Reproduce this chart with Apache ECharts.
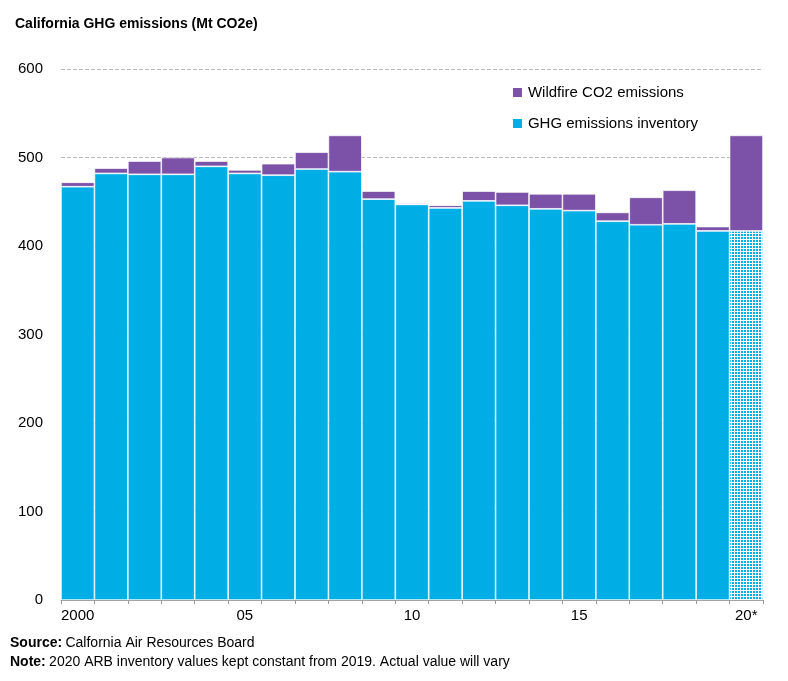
<!DOCTYPE html>
<html>
<head>
<meta charset="utf-8">
<script src="https://cdn.jsdelivr.net/npm/echarts@6/dist/echarts.min.js"></script>
<style>
  body { margin: 0; background: #fff; }
  #chart { width: 788px; height: 681px; }
</style>
</head>
<body>
<div id="chart"></div>
<script>
const years = ['2000', '01', '02', '03', '04', '05', '06', '07', '08', '09', '10',
  '11', '12', '13', '14', '15', '16', '17', '18', '19', '20*'];
const xLabels = { 0: '2000', 5: '05', 10: '10', 15: '15', 20: '20*' };
const ghg = [467, 482, 481, 481, 490, 482, 480, 487, 484, 453, 447,
  443, 451, 446, 442, 440, 428, 424, 425, 417, 417];
const wildfire = [5, 6, 15, 19, 6, 4, 13, 19, 41, 9, 1,
  3, 11, 15, 17, 19, 10, 31, 38, 5, 108];

// dotted fill for the 2020 estimate
const pat = document.createElement('canvas');
pat.width = 3; pat.height = 3;
const pc = pat.getContext('2d');
pc.fillStyle = '#ffffff';
pc.fillRect(0, 0, 3, 3);
pc.fillStyle = '#00aee6';
pc.fillRect(0, 0, 2, 2);

const chart = echarts.init(document.getElementById('chart'));
const blue = '#00aee6';
const purple = '#7b52a8';

chart.setOption({
  animation: false,
  title: {
    text: 'California GHG emissions (Mt CO2e)',
    left: 10, top: 12,
    textStyle: { fontFamily: 'Liberation Sans', fontSize: 14, fontWeight: 'bold', color: '#000' }
  },
  legend: {
    orient: 'vertical',
    right: 85, top: 80,
    itemWidth: 11, itemHeight: 11, itemGap: 16,
    icon: 'rect',
    textStyle: { fontFamily: 'Liberation Sans', fontSize: 15, color: '#000' },
    data: ['Wildfire CO2 emissions', 'GHG emissions inventory']
  },
  grid: { left: 61, right: 25, top: 69, bottom: 81 },
  xAxis: {
    type: 'category',
    data: years,
    axisLine: { lineStyle: { color: '#999' } },
    axisTick: { show: true, interval: 0, length: 4, lineStyle: { color: '#999' } },
    axisLabel: {
      interval: 0,
      formatter: (v, i) => xLabels[i] || '',
      fontFamily: 'Liberation Sans', fontSize: 15, color: '#000', margin: 8
    }
  },
  yAxis: {
    type: 'value',
    min: 0, max: 600, interval: 100,
    axisLabel: { fontFamily: 'Liberation Sans', fontSize: 15, color: '#000', margin: 18 },
    splitLine: { lineStyle: { color: '#bbb', type: 'dashed' } }
  },
  series: [
    {
      name: 'GHG emissions inventory',
      type: 'bar', stack: 'total',
      barCategoryGap: 0,
      itemStyle: { color: blue, borderColor: '#fff', borderWidth: 0.7 },
      data: ghg.map((v, i) => i === 20
        ? { value: v, itemStyle: { color: { image: pat, repeat: 'repeat' } } }
        : v)
    },
    {
      name: 'Wildfire CO2 emissions',
      type: 'bar', stack: 'total',
      barCategoryGap: 0,
      itemStyle: { color: purple, borderColor: '#fff', borderWidth: 0.7 },
      data: wildfire
    }
  ],
  graphic: [
    {
      type: 'text', left: 10, top: 636,
      style: {
        rich: { b: { fontWeight: 'bold', fontFamily: 'Liberation Sans', fontSize: 14 }, n: { fontFamily: 'Liberation Sans', fontSize: 14 } },
        text: '{b|Source:} {n|Calfornia Air Resources Board}'
      }
    },
    {
      type: 'text', left: 10, top: 655,
      style: {
        rich: { b: { fontWeight: 'bold', fontFamily: 'Liberation Sans', fontSize: 14 }, n: { fontFamily: 'Liberation Sans', fontSize: 14 } },
        text: '{b|Note:} {n|2020 ARB inventory values kept constant from 2019. Actual value will vary}'
      }
    }
  ]
});
</script>
</body>
</html>
